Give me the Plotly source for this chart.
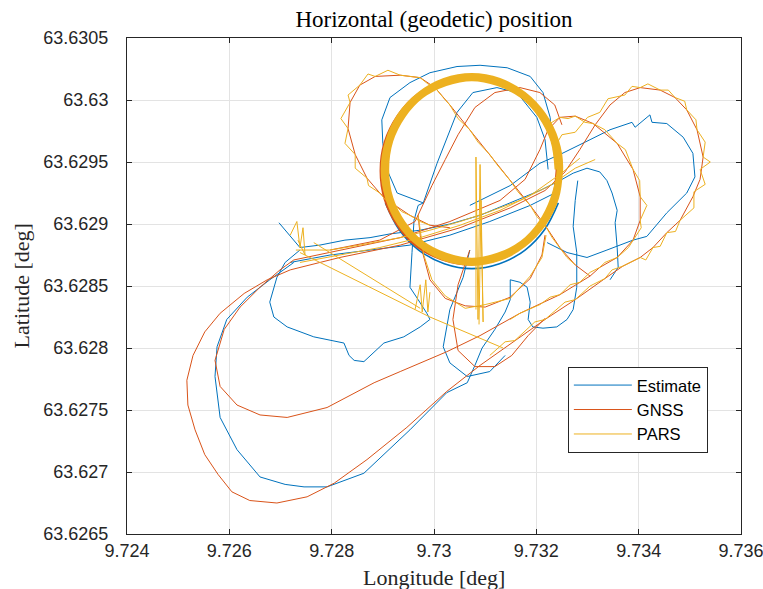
import plotly.graph_objects as go

# ---------------- data (longitude / latitude in degrees) ----------------
est_lon = [9.72697, 9.72738, 9.72777, 9.72826, 9.72875, 9.72914, 9.72973, 9.73031, 9.73090, 9.73149, 9.73207, 9.73246, 9.73272, 9.73299, 9.73324, 9.73338, 9.73348, 9.73358, 9.73354, 9.73358, 9.73360, 9.73344, None,
           9.72726, 9.72679, 9.72635, 9.72595, 9.72576, 9.72572, 9.72582, 9.72615, 9.72660, 9.72709, 9.72746, 9.72791, 9.72863, 9.72953, 9.73025, 9.73065, 9.73080, 9.73094, 9.73119, 9.73139, 9.73149, 9.73149, 9.73168, 9.73182, 9.73188, 9.73184, 9.73193, 9.73213, 9.73240, 9.73260, 9.73272, 9.73279, 9.73279, 9.73272, 9.73276, 9.73281, None,
           9.72738, 9.72709, 9.72693, 9.72679, 9.72687, 9.72713, 9.72765, 9.72824, 9.72834, 9.72844, 9.72863, 9.72902, 9.72941, 9.72973, 9.72992, 9.72986, 9.72969, 9.72953, 9.72957, 9.72961, 9.72969, 9.72979, 9.73006, 9.73045, 9.73076, 9.73123, 9.73162, 9.73201, 9.73217, 9.73223, None,
           9.73236, 9.73231, 9.73227, 9.73213, 9.73188, 9.73143, 9.73090, 9.73045, 9.72992, 9.72953, 9.72914, 9.72898, 9.72900, 9.72908, 9.72928, 9.72979, None,
           9.72719, 9.72797, 9.72875, 9.72953, 9.73031, 9.73109, 9.73188, 9.73246, None,
           9.73070, 9.73149, 9.73207, 9.73246, 9.73305, 9.73344, 9.73387, 9.73393, 9.73422, 9.73426, 9.73455, 9.73487, 9.73506, 9.73510, 9.73494, 9.73455, 9.73416, 9.73389, 9.73338, 9.73299, 9.73260, 9.73221, None,
           9.73070, 9.73057, 9.73031, 9.73018, 9.73031, 9.73065, 9.73109, 9.73139]
est_lat = [63.62901, 63.62881, 63.62883, 63.62887, 63.62889, 63.62892, 63.62895, 63.62900, 63.62907, 63.62917, 63.62927, 63.62935, 63.62941, 63.62945, 63.62942, 63.62935, 63.62925, 63.62911, 63.62901, 63.62881, 63.62865, 63.62855, None,
           63.62869, 63.62855, 63.62841, 63.62823, 63.62801, 63.62777, 63.62744, 63.62718, 63.62696, 63.62690, 63.62688, 63.62688, 63.62699, 63.62734, 63.62764, 63.62772, 63.62786, 63.62800, 63.62815, 63.62829, 63.62839, 63.62855, 63.62853, 63.62849, 63.62837, 63.62823, 63.62817, 63.62816, 63.62817, 63.62823, 63.62831, 63.62849, 63.62877, 63.62898, 63.62919, 63.62935, None,
           63.62879, 63.62869, 63.62857, 63.62837, 63.62825, 63.62817, 63.62809, 63.62804, 63.62794, 63.62790, 63.62789, 63.62804, 63.62809, 63.62817, 63.62823, 63.62828, 63.62839, 63.62849, 63.62877, 63.62903, 63.62915, 63.62917, 63.62949, 63.62990, 63.63006, 63.63010, 63.63006, 63.62986, 63.62968, 63.62944, None,
           63.62960, 63.62965, 63.62986, 63.63006, 63.63019, 63.63026, 63.63028, 63.63027, 63.63022, 63.63014, 63.63002, 63.62984, 63.62965, 63.62944, 63.62925, 63.62917, None,
           63.62869, 63.62875, 63.62879, 63.62883, 63.62891, 63.62902, 63.62915, 63.62927, None,
           63.62915, 63.62931, 63.62949, 63.62956, 63.62968, 63.62976, 63.62982, 63.62978, 63.62988, 63.62982, 63.62981, 63.62970, 63.62957, 63.62938, 63.62925, 63.62909, 63.62890, 63.62887, 63.62879, 63.62873, 63.62877, 63.62885, None,
           63.62879, 63.62857, 63.62831, 63.62801, 63.62788, 63.62777, 63.62781, 63.62794]
est_ring_lon = [9.72905, 9.72931, 9.72970, 9.73020, 9.73074, 9.73128, 9.73178, 9.73217, 9.73243]
est_ring_lat = [63.62917, 63.62896, 63.62879, 63.62868, 63.62864, 63.62868, 63.62879, 63.62896, 63.62917]

gnss_lon = [9.72719, 9.72816, 9.72934, 9.73051, 9.73149, 9.73217, 9.73256, 9.73285, 9.73315, 9.73344, 9.73373, 9.73403, 9.73442, 9.73471, 9.73494, 9.73514, 9.73526, 9.73520, 9.73506, 9.73481, 9.73455, 9.73428, 9.73403, 9.73369, 9.73334, 9.73276, 9.73217, 9.73158, 9.73090, 9.73025, 9.72947, 9.72869, 9.72805, 9.72752, 9.72693, 9.72640, 9.72605, 9.72578, 9.72552, 9.72533, 9.72519, 9.72517, 9.72529, 9.72552, 9.72582, 9.72629, 9.72674, 9.72719, None,
            9.72726, 9.72816, 9.72934, 9.73031, 9.73129, 9.73178, 9.73207, 9.73223, 9.73246, 9.73276, 9.73311, 9.73358, 9.73389, 9.73403, 9.73403, 9.73389, 9.73358, 9.73324, 9.73305, 9.73246, 9.73168, 9.73090, 9.73025, 9.72934, 9.72883, 9.72791, 9.72713, 9.72660, 9.72615, 9.72582, 9.72572, 9.72590, 9.72621, 9.72660, 9.72699, 9.72726, None,
            9.73031, 9.72992, 9.72953, 9.72924, 9.72894, 9.72869, 9.72846, 9.72832, 9.72836, 9.72855, 9.72885, 9.72934, 9.72973, 9.73002, 9.73031, 9.73070, 9.73109, 9.73149, 9.73188, 9.73217, 9.73246, 9.73276, 9.73305, None,
            9.72797, 9.72894, 9.72963, 9.72996, 9.73022, 9.73047, 9.73080, 9.73119, 9.73168, 9.73207, 9.73236, 9.73250, None,
            9.72969, 9.72973, 9.72979, 9.72992, 9.73022, 9.73061, 9.73100, 9.73149, 9.73188, 9.73211, 9.73217, None,
            9.73070, 9.73047, 9.73037, 9.73047, 9.73080, 9.73119, 9.73152, 9.73184, 9.73217]
gnss_lat = [63.62863, 63.62873, 63.62883, 63.62897, 63.62913, 63.62927, 63.62942, 63.62960, 63.62980, 63.62996, 63.63006, 63.63010, 63.63008, 63.63002, 63.62992, 63.62976, 63.62954, 63.62936, 63.62922, 63.62903, 63.62893, 63.62881, 63.62873, 63.62866, 63.62856, 63.62839, 63.62823, 63.62806, 63.62786, 63.62765, 63.62736, 63.62710, 63.62691, 63.62680, 63.62675, 63.62677, 63.62684, 63.62698, 63.62714, 63.62734, 63.62754, 63.62774, 63.62794, 63.62813, 63.62828, 63.62844, 63.62855, 63.62863, None,
            63.62871, 63.62879, 63.62889, 63.62902, 63.62919, 63.62936, 63.62960, 63.62976, 63.62986, 63.62987, 63.62981, 63.62965, 63.62944, 63.62922, 63.62903, 63.62887, 63.62873, 63.62865, 63.62858, 63.62843, 63.62828, 63.62810, 63.62797, 63.62781, 63.62772, 63.62752, 63.62744, 63.62746, 63.62754, 63.62769, 63.62790, 63.62815, 63.62833, 63.62849, 63.62863, 63.62871, None,
            63.62897, 63.62899, 63.62907, 63.62915, 63.62925, 63.62937, 63.62956, 63.62977, 63.62998, 63.63012, 63.63019, 63.63020, 63.63018, 63.63010, 63.62996, 63.62976, 63.62956, 63.62935, 63.62915, 63.62899, 63.62881, 63.62867, 63.62858, None,
            63.62879, 63.62887, 63.62902, 63.62931, 63.62952, 63.62972, 63.62994, 63.63006, 63.63010, 63.63006, 63.62996, 63.62980, None,
            63.62907, 63.62891, 63.62875, 63.62855, 63.62840, 63.62834, 63.62833, 63.62841, 63.62856, 63.62875, 63.62891, None,
            63.62879, 63.62851, 63.62823, 63.62798, 63.62785, 63.62785, 63.62794, 63.62810, 63.62824]
gnss_ring_lon = [9.73242, 9.73234, 9.73210, 9.73173, 9.73126, 9.73074, 9.73022, 9.72975, 9.72938, 9.72914, 9.72906, 9.72914, 9.72938, 9.72975, 9.73022, 9.73074, 9.73126, 9.73173, 9.73210, 9.73234,
                 9.73241, 9.73233, 9.73208, 9.73170, 9.73122, 9.73069, 9.73016, 9.72968, 9.72930, 9.72905, 9.72897, 9.72905, 9.72930, 9.72968, 9.73016, 9.73069, 9.73122, 9.73170, 9.73208, 9.73233, 9.73241]
gnss_ring_lat = [63.62944, 63.62967, 63.62987, 63.63004, 63.63014, 63.63018, 63.63014, 63.63004, 63.62987, 63.62967, 63.62944, 63.62921, 63.62901, 63.62885, 63.62874, 63.62871, 63.62874, 63.62885, 63.62901, 63.62921,
                 63.62943, 63.62966, 63.62987, 63.63004, 63.63014, 63.63018, 63.63014, 63.63004, 63.62987, 63.62966, 63.62943, 63.62920, 63.62899, 63.62882, 63.62872, 63.62868, 63.62872, 63.62882, 63.62899, 63.62920, 63.62943]

pars_lon = [9.73233, 9.73250, 9.73276, 9.73300, 9.73324, 9.73340, 9.73373, 9.73387, 9.73403, 9.73418, 9.73442, 9.73458, 9.73471, 9.73490, 9.73494, 9.73512, 9.73514, 9.73530, 9.73526, 9.73540, 9.73520, 9.73530, 9.73508, 9.73508, 9.73481, 9.73472, 9.73455, 9.73442, 9.73428, 9.73414, 9.73403, 9.73383, 9.73369, 9.73348, 9.73334, 9.73305, 9.73276, 9.73256, 9.73217, 9.73197, 9.73158, 9.73139, 9.73109, None,
            9.73223, 9.73246, 9.73262, 9.73276, 9.73295, 9.73311, 9.73334, 9.73358, 9.73374, 9.73389, 9.73402, 9.73403, 9.73416, 9.73403, 9.73405, 9.73389, 9.73380, 9.73358, 9.73334, 9.73324, 9.73305, 9.73285, 9.73266, 9.73246, 9.73227, 9.73207, 9.73168, 9.73149, None,
            9.72992, 9.72973, 9.72953, 9.72937, 9.72924, 9.72906, 9.72894, 9.72872, 9.72869, 9.72846, 9.72846, 9.72826, 9.72832, 9.72818, 9.72836, 9.72832, 9.72855, 9.72871, 9.72885, 9.72910, 9.72934, 9.72953, 9.72973, 9.72988, 9.73002, 9.73018, 9.73031, 9.73047, 9.73070, 9.73086, 9.73109, 9.73123, 9.73149, 9.73164, 9.73188, 9.73201, 9.73217, 9.73231, 9.73246, 9.73260, 9.73276, None,
            9.72730, 9.72797, 9.72855, 9.72934, 9.72992, 9.73051, 9.73109, 9.73168, 9.73227, 9.73276, 9.73315, None,
            9.72738, 9.72816, 9.72894, 9.72973, 9.73051, 9.73129, 9.73188, 9.73246, 9.73285, None,
            9.72738, 9.72992, 9.73135, None,
            9.72765, 9.72973, None,
            9.73082, 9.73082, 9.73086, 9.73090, 9.73096, 9.73092, 9.73088, None,
            9.72963, 9.72973, 9.72977, 9.72984, 9.72988, 9.72992, None,
            9.72719, 9.72732, 9.72738, 9.72744, 9.72748, 9.72734, None,
            9.72969, 9.72975, 9.72980, 9.72996, 9.73022, 9.73061, 9.73100, 9.73149, 9.73188, 9.73211, 9.73219]
pars_lat = [63.62960, 63.62972, 63.62974, 63.62986, 63.62990, 63.63001, 63.63004, 63.63011, 63.63010, 63.63013, 63.63008, 63.63008, 63.63002, 63.62999, 63.62992, 63.62984, 63.62976, 63.62966, 63.62954, 63.62950, 63.62944, 63.62932, 63.62926, 63.62913, 63.62903, 63.62894, 63.62893, 63.62882, 63.62881, 63.62871, 63.62873, 63.62869, 63.62866, 63.62863, 63.62856, 63.62850, 63.62839, 63.62837, 63.62823, 63.62821, 63.62806, 63.62805, 63.62794, None,
            63.62980, 63.62986, 63.62985, 63.62987, 63.62982, 63.62981, 63.62976, 63.62965, 63.62960, 63.62944, 63.62935, 63.62922, 63.62915, 63.62903, 63.62897, 63.62887, 63.62881, 63.62873, 63.62869, 63.62865, 63.62861, 63.62853, 63.62851, 63.62843, 63.62841, 63.62835, 63.62828, 63.62823, None,
            63.62899, 63.62902, 63.62907, 63.62910, 63.62915, 63.62919, 63.62925, 63.62931, 63.62937, 63.62945, 63.62956, 63.62965, 63.62977, 63.62985, 63.62998, 63.63004, 63.63012, 63.63021, 63.63019, 63.63024, 63.63020, 63.63019, 63.63018, 63.63013, 63.63010, 63.63002, 63.62996, 63.62985, 63.62976, 63.62966, 63.62956, 63.62948, 63.62935, 63.62926, 63.62915, 63.62906, 63.62899, 63.62889, 63.62881, 63.62873, 63.62867, None,
            63.62879, 63.62879, 63.62883, 63.62889, 63.62895, 63.62902, 63.62910, 63.62919, 63.62931, 63.62945, 63.62952, None,
            63.62869, 63.62875, 63.62881, 63.62889, 63.62899, 63.62911, 63.62923, 63.62940, 63.62953, None,
            63.62877, 63.62825, 63.62800, None,
            63.62885, 63.62832, None,
            63.62831, 63.62954, 63.62823, 63.62948, 63.62821, 63.62919, 63.62819, None,
            63.62831, 63.62851, 63.62829, 63.62855, 63.62829, 63.62845, None,
            63.62891, 63.62902, 63.62881, 63.62897, 63.62875, 63.62887, None,
            63.62907, 63.62891, 63.62875, 63.62855, 63.62842, 63.62832, 63.62835, 63.62840, 63.62858, 63.62873, 63.62891]
pars_ring_lon = [9.73240, 9.73232, 9.73208, 9.73172, 9.73125, 9.73074, 9.73023, 9.72976, 9.72940, 9.72916, 9.72908, 9.72916, 9.72940, 9.72976, 9.73023, 9.73074, 9.73125, 9.73172, 9.73208, 9.73232,
                 9.73244, 9.73236, 9.73212, 9.73174, 9.73127, 9.73074, 9.73022, 9.72974, 9.72937, 9.72912, 9.72904, 9.72912, 9.72937, 9.72974, 9.73022, 9.73074, 9.73127, 9.73174, 9.73212, 9.73236,
                 9.73248, 9.73240, 9.73215, 9.73176, 9.73128, 9.73074, 9.73020, 9.72972, 9.72933, 9.72909, 9.72900, 9.72909, 9.72933, 9.72972, 9.73020, 9.73074, 9.73128, 9.73176, 9.73215, 9.73240, 9.73248]
pars_ring_lat = [63.62944, 63.62967, 63.62987, 63.63003, 63.63013, 63.63017, 63.63013, 63.63003, 63.62987, 63.62967, 63.62944, 63.62921, 63.62901, 63.62885, 63.62875, 63.62871, 63.62875, 63.62885, 63.62901, 63.62921,
                 63.62944, 63.62967, 63.62988, 63.63004, 63.63015, 63.63018, 63.63015, 63.63004, 63.62988, 63.62967, 63.62944, 63.62921, 63.62900, 63.62884, 63.62873, 63.62870, 63.62873, 63.62884, 63.62900, 63.62921,
                 63.62944, 63.62967, 63.62988, 63.63005, 63.63016, 63.63020, 63.63016, 63.63005, 63.62988, 63.62967, 63.62944, 63.62921, 63.62900, 63.62883, 63.62872, 63.62868, 63.62872, 63.62883, 63.62900, 63.62921, 63.62944]

x_tick_vals = [9.724, 9.726, 9.728, 9.730, 9.732, 9.734, 9.736]
x_tick_text = ["9.724", "9.726", "9.728", "9.73", "9.732", "9.734", "9.736"]
y_tick_vals = [63.6265, 63.6270, 63.6275, 63.6280, 63.6285, 63.6290, 63.6295, 63.6300, 63.6305]
y_tick_text = ["63.6265", "63.627", "63.6275", "63.628", "63.6285", "63.629", "63.6295", "63.63", "63.6305"]

# ---------------- figure ----------------
C_EST, C_GNSS, C_PARS = "#0072BD", "#D95319", "#EDB120"

fig = go.Figure()
fig.add_trace(go.Scatter(x=est_lon, y=est_lat, mode="lines", name="Estimate",
                         line=dict(color=C_EST, width=1), legendgroup="e"))
fig.add_trace(go.Scatter(x=est_ring_lon, y=est_ring_lat, mode="lines", showlegend=False,
                         line=dict(color=C_EST, width=1.6, shape="spline"), legendgroup="e"))
fig.add_trace(go.Scatter(x=gnss_lon, y=gnss_lat, mode="lines", name="GNSS",
                         line=dict(color=C_GNSS, width=1), legendgroup="g"))
fig.add_trace(go.Scatter(x=gnss_ring_lon, y=gnss_ring_lat, mode="lines", showlegend=False,
                         line=dict(color=C_GNSS, width=3.5, shape="spline"), legendgroup="g"))
fig.add_trace(go.Scatter(x=pars_lon, y=pars_lat, mode="lines", name="PARS",
                         line=dict(color=C_PARS, width=1), legendgroup="p"))
fig.add_trace(go.Scatter(x=pars_ring_lon, y=pars_ring_lat, mode="lines", showlegend=False,
                         line=dict(color=C_PARS, width=4.5, shape="spline"), legendgroup="p"))

axis_common = dict(showline=True, linecolor="#262626", linewidth=1, mirror="ticks",
                   ticks="inside", ticklen=5, tickcolor="#262626",
                   showgrid=True, gridcolor="#e3e3e3", gridwidth=1, zeroline=False,
                   ticklabeloverflow="allow", automargin=False,
                   tickfont=dict(family="Liberation Sans", size=18, color="#262626"))

fig.update_layout(
    width=763, height=589,
    margin=dict(l=127, r=22, t=38, b=55),
    plot_bgcolor="white", paper_bgcolor="white",
    title=dict(text="Horizontal (geodetic) position", x=0.5, xref="paper", xanchor="center",
               y=1 - 19 / 589, yref="container", yanchor="middle",
               font=dict(family="Liberation Serif", size=23, color="black")),
    xaxis=dict(range=[9.724, 9.736], tickvals=x_tick_vals, ticktext=x_tick_text, **axis_common),
    yaxis=dict(range=[63.6265, 63.6305], tickvals=y_tick_vals, ticktext=y_tick_text,
               ticklabelstandoff=14, **axis_common),
    legend=dict(x=0.718, y=0.337, xanchor="left", yanchor="top", bgcolor="white",
                bordercolor="#262626", borderwidth=1, tracegroupgap=0, itemwidth=58,
                font=dict(family="Liberation Sans", size=16.5, color="black")),
    annotations=[
        dict(text="Longitude [deg]", x=0.5, y=-0.087, xref="paper", yref="paper",
             xanchor="center", yanchor="middle", showarrow=False,
             font=dict(family="Liberation Serif", size=22, color="#262626")),
        dict(text="Latitude [deg]", x=-0.172, y=0.5, xref="paper", yref="paper",
             xanchor="center", yanchor="middle", showarrow=False, textangle=-90,
             font=dict(family="Liberation Serif", size=22, color="#262626")),
    ],
)

fig.write_html("out.html")
